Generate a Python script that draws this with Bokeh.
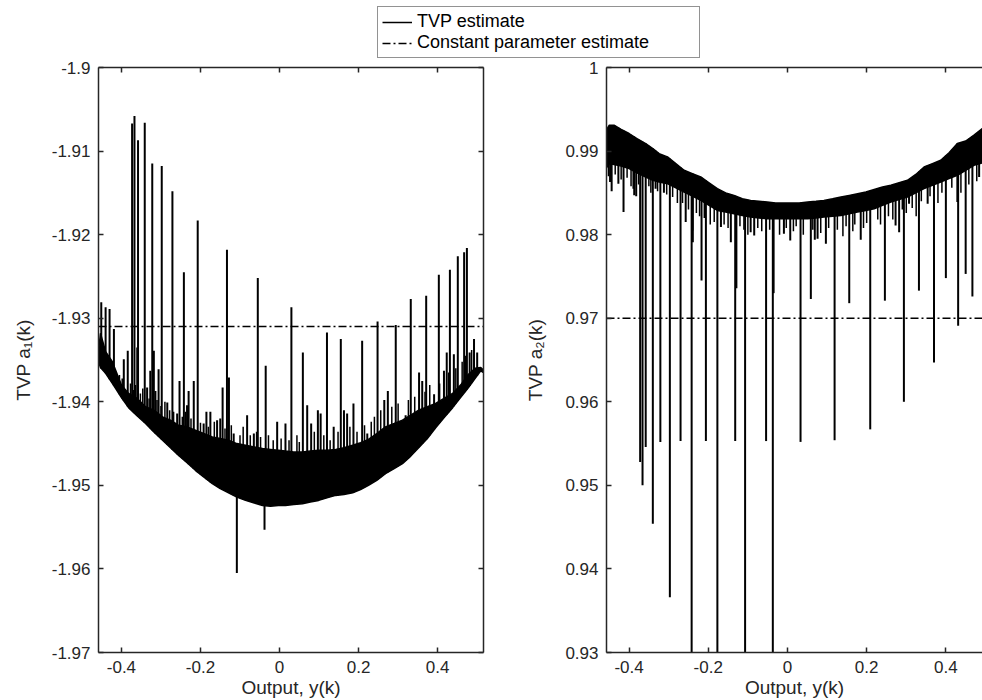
import numpy as np
from bokeh.plotting import figure
from bokeh.models import Range1d, LinearAxis, FixedTicker, Legend, LegendItem
from bokeh.layouts import column, row
from bokeh.embed import file_html
from bokeh.resources import INLINE

TXT = "#262626"
FONT = "Liberation Sans"
DASHDOT = "8 3 2 3"

# ---------------- tick definitions ----------------
x_ticks = [-0.4, -0.2, 0.0, 0.2, 0.4]
x_ticklabels = ["-0.4", "-0.2", "0", "0.2", "0.4"]
a1_ticks = [-1.97, -1.96, -1.95, -1.94, -1.93, -1.92, -1.91, -1.9]
a1_ticklabels = ["-1.97", "-1.96", "-1.95", "-1.94", "-1.93", "-1.92", "-1.91", "-1.9"]
a2_ticks = [0.93, 0.94, 0.95, 0.96, 0.97, 0.98, 0.99, 1.0]
a2_ticklabels = ["0.93", "0.94", "0.95", "0.96", "0.97", "0.98", "0.99", "1"]

# ---------------- left panel: TVP a1(k) ----------------
a1_x = [-0.458, -0.453, -0.440, -0.423, -0.400, -0.382, -0.360, -0.339, -0.318, -0.296,
        -0.276, -0.256, -0.234, -0.213, -0.192, -0.170, -0.150, -0.129, -0.108, -0.086,
        -0.064, -0.043, -0.023, -0.003, 0.015, 0.036, 0.058, 0.078, 0.099, 0.120,
        0.142, 0.163, 0.185, 0.205, 0.225, 0.246, 0.268, 0.290, 0.311, 0.332,
        0.352, 0.374, 0.395, 0.416, 0.438, 0.458, 0.478, 0.495, 0.509, 0.516]
a1_low = [-1.9352, -1.9359, -1.9366, -1.9378, -1.9395, -1.9407, -1.9417, -1.9426, -1.9436, -1.9446,
          -1.9455, -1.9464, -1.9473, -1.9482, -1.9490, -1.9498, -1.9504, -1.9509, -1.9514, -1.9518,
          -1.9521, -1.9524, -1.9525, -1.9524, -1.9524, -1.9523, -1.9522, -1.9520, -1.9518, -1.9515,
          -1.9512, -1.9511, -1.9509, -1.9505, -1.9500, -1.9494, -1.9486, -1.9480, -1.9474, -1.9465,
          -1.9455, -1.9444, -1.9431, -1.9419, -1.9407, -1.9395, -1.9383, -1.9372, -1.9363, -1.9365]
a1_high = [-1.9340, -1.9318, -1.9340, -1.9352, -1.9380, -1.9390, -1.9396, -1.9406, -1.9410, -1.9418,
           -1.9422, -1.9428, -1.9430, -1.9434, -1.9438, -1.9442, -1.9444, -1.9446, -1.9450, -1.9452,
           -1.9454, -1.9456, -1.9457, -1.9458, -1.9459, -1.9460, -1.9460, -1.9459, -1.9458, -1.9458,
           -1.9457, -1.9455, -1.9452, -1.9449, -1.9445, -1.9438, -1.9430, -1.9426, -1.9422, -1.9416,
           -1.9410, -1.9406, -1.9402, -1.9396, -1.9390, -1.9380, -1.9367, -1.9360, -1.9359, -1.9362]
# tall upward spikes of the TVP a1 estimate (position, tip value)
a1_spike_x = [-0.373, -0.367, -0.358, -0.341, -0.322, -0.298, -0.271, -0.242, -0.207, -0.133,
              -0.055, 0.030, 0.120, 0.155, 0.209, 0.248, 0.294, 0.332, 0.371, 0.403,
              0.431, 0.451, 0.467, 0.474,
              -0.451, -0.440, -0.430, -0.419, -0.394, -0.384, -0.365, -0.360, -0.335, -0.327,
              -0.318, -0.314, -0.306, -0.284, -0.259, -0.253, -0.234, -0.230, -0.217, -0.192,
              -0.185, -0.175, -0.158, -0.150, -0.144, -0.128, -0.116, -0.082, -0.065, -0.035,
              -0.006, 0.015, 0.059, 0.070, 0.080, 0.097, 0.104, 0.137, 0.163, 0.171,
              0.187, 0.222, 0.265, 0.274, 0.319, 0.353, 0.361, 0.391, 0.416, 0.423,
              0.441, 0.481, 0.492, 0.500]
a1_spike_tip = [-1.9067, -1.9058, -1.9087, -1.9066, -1.9115, -1.9118, -1.9148, -1.9245, -1.9183, -1.9218,
                -1.9252, -1.9287, -1.9317, -1.9325, -1.9327, -1.9304, -1.9308, -1.9277, -1.9273, -1.9248,
                -1.9242, -1.9226, -1.9221, -1.9216,
                -1.9281, -1.9287, -1.9289, -1.9313, -1.9349, -1.9339, -1.9380, -1.9335, -1.9383, -1.9363,
                -1.9339, -1.9387, -1.9361, -1.9401, -1.9414, -1.9375, -1.9404, -1.9387, -1.9375, -1.9426,
                -1.9412, -1.9412, -1.9422, -1.9420, -1.9383, -1.9371, -1.9438, -1.9416, -1.9438, -1.9357,
                -1.9424, -1.9426, -1.9341, -1.9404, -1.9426, -1.9410, -1.9414, -1.9430, -1.9410, -1.9414,
                -1.9402, -1.9438, -1.9398, -1.9387, -1.9416, -1.9365, -1.9375, -1.9391, -1.9363, -1.9341,
                -1.9343, -1.9341, -1.9325, -1.9341]
# short fringe spikes along the top of the dense band
a1_fringe_x = [-0.405, -0.398, -0.377, -0.370, -0.352, -0.346, -0.330, -0.310, -0.300, -0.290,
               -0.278, -0.268, -0.246, -0.238, -0.224, -0.200, -0.180, -0.165, -0.138, -0.122,
               -0.100, -0.092, -0.074, -0.058, -0.048, -0.028, -0.016, 0.004, 0.024, 0.044,
               0.050, 0.088, 0.112, 0.128, 0.148, 0.178, 0.196, 0.215, 0.232, 0.240,
               0.256, 0.284, 0.300, 0.326, 0.342, 0.368, 0.380, 0.405, 0.428, 0.446,
               0.462, 0.470, 0.486]
a1_fringe_tip = [-1.9368, -1.9372, -1.9378, -1.9386, -1.9390, -1.9384, -1.9396, -1.9398, -1.9405, -1.9400,
                 -1.9410, -1.9412, -1.9418, -1.9412, -1.9420, -1.9425, -1.9430, -1.9424, -1.9432, -1.9428,
                 -1.9440, -1.9430, -1.9440, -1.9436, -1.9442, -1.9440, -1.9446, -1.9444, -1.9446, -1.9440,
                 -1.9448, -1.9436, -1.9440, -1.9446, -1.9436, -1.9430, -1.9436, -1.9428, -1.9424, -1.9418,
                 -1.9410, -1.9406, -1.9402, -1.9398, -1.9394, -1.9388, -1.9380, -1.9378, -1.9365, -1.9360,
                 -1.9352, -1.9345, -1.9338]
# downward spikes
a1_dip_x = [-0.108, -0.038]
a1_dip_tip = [-1.9605, -1.9553]
a1_const = -1.931

# ---------------- right panel: TVP a2(k) ----------------
a2_x = [-0.457, -0.450, -0.438, -0.420, -0.400, -0.380, -0.358, -0.340, -0.324, -0.303,
        -0.282, -0.261, -0.240, -0.219, -0.198, -0.177, -0.156, -0.135, -0.114, -0.093,
        -0.072, -0.051, -0.030, -0.009, 0.008, 0.030, 0.051, 0.072, 0.092, 0.114,
        0.135, 0.156, 0.177, 0.198, 0.219, 0.240, 0.261, 0.282, 0.303, 0.324,
        0.345, 0.366, 0.387, 0.408, 0.429, 0.450, 0.471, 0.492, 0.516]
a2_high = [0.9925, 0.9931, 0.9931, 0.9926, 0.9921, 0.9915, 0.9909, 0.9903, 0.9897, 0.9893,
           0.9885, 0.9877, 0.9873, 0.9869, 0.9862, 0.9855, 0.9850, 0.9847, 0.9843, 0.9841,
           0.9840, 0.9839, 0.9838, 0.9838, 0.9838, 0.9838, 0.9839, 0.9840, 0.9841, 0.9843,
           0.9845, 0.9847, 0.9849, 0.9851, 0.9854, 0.9857, 0.9859, 0.9862, 0.9865, 0.9872,
           0.9881, 0.9885, 0.9889, 0.9898, 0.9909, 0.9912, 0.9919, 0.9927, 0.9930]
a2_low = [0.9880, 0.9885, 0.9884, 0.9882, 0.9879, 0.9874, 0.9869, 0.9865, 0.9863, 0.9861,
          0.9856, 0.9851, 0.9846, 0.9841, 0.9835, 0.9829, 0.9827, 0.9825, 0.9823, 0.9821,
          0.9820, 0.9819, 0.9819, 0.9819, 0.9819, 0.9819, 0.9819, 0.9820, 0.9821, 0.9822,
          0.9823, 0.9825, 0.9827, 0.9829, 0.9831, 0.9835, 0.9839, 0.9842, 0.9845, 0.9850,
          0.9855, 0.9859, 0.9863, 0.9867, 0.9871, 0.9877, 0.9883, 0.9886, 0.9888]
# downward spikes of the TVP a2 estimate (position, tip value)
a2_dip_x = [-0.448, -0.444, -0.427, -0.414, -0.389, -0.387, -0.382, -0.372, -0.366, -0.358,
            -0.340, -0.333, -0.321, -0.312, -0.297, -0.270, -0.257, -0.242, -0.240, -0.239,
            -0.217, -0.206, -0.177, -0.168, -0.143, -0.132, -0.129, -0.107, -0.093, -0.084,
            -0.054, -0.037, -0.035, -0.009, 0.007, 0.033, 0.059, 0.069, 0.076, 0.097,
            0.119, 0.156, 0.185, 0.209, 0.246, 0.273, 0.282, 0.294, 0.307, 0.332,
            0.354, 0.370, 0.395, 0.400, 0.429, 0.431, 0.450, 0.467, 0.484]
a2_dip_tip = [0.9863, 0.9852, 0.9861, 0.9827, 0.9855, 0.9847, 0.9846, 0.9528, 0.9500, 0.9546,
              0.9454, 0.9855, 0.9552, 0.9850, 0.9366, 0.9553, 0.9815, 0.9200, 0.9805, 0.9791,
              0.9745, 0.9553, 0.9200, 0.9809, 0.9791, 0.9553, 0.9736, 0.9200, 0.9803, 0.9799,
              0.9553, 0.9200, 0.9730, 0.9801, 0.9793, 0.9552, 0.9723, 0.9794, 0.9795, 0.9789,
              0.9554, 0.9718, 0.9794, 0.9567, 0.9721, 0.9811, 0.9803, 0.9600, 0.9837, 0.9733,
              0.9837, 0.9647, 0.9865, 0.9748, 0.9839, 0.9691, 0.9753, 0.9726, 0.9869]
# short fringe dips along the bottom of the dense band
a2_fringe_x = [-0.452, -0.435, -0.420, -0.405, -0.395, -0.376, -0.350, -0.345, -0.328, -0.305,
               -0.290, -0.278, -0.265, -0.250, -0.230, -0.222, -0.210, -0.195, -0.185, -0.160,
               -0.150, -0.120, -0.110, -0.100, -0.075, -0.065, -0.045, -0.020, -0.003, 0.015,
               0.022, 0.040, 0.064, 0.084, 0.104, 0.126, 0.140, 0.148, 0.165, 0.170,
               0.192, 0.200, 0.228, 0.235, 0.255, 0.266, 0.290, 0.300, 0.315, 0.325,
               0.338, 0.360, 0.380, 0.390, 0.415, 0.438, 0.458, 0.478]
a2_fringe_tip = [0.9870, 0.9872, 0.9866, 0.9868, 0.9858, 0.9860, 0.9858, 0.9850, 0.9852, 0.9848,
                 0.9845, 0.9838, 0.9838, 0.9830, 0.9826, 0.9822, 0.9820, 0.9812, 0.9815, 0.9812,
                 0.9808, 0.9810, 0.9806, 0.9800, 0.9808, 0.9804, 0.9806, 0.9800, 0.9808, 0.9804,
                 0.9810, 0.9800, 0.9806, 0.9802, 0.9808, 0.9806, 0.9798, 0.9810, 0.9804, 0.9812,
                 0.9808, 0.9814, 0.9818, 0.9812, 0.9822, 0.9818, 0.9830, 0.9826, 0.9832, 0.9822,
                 0.9840, 0.9846, 0.9838, 0.9850, 0.9856, 0.9850, 0.9860, 0.9864]
a2_const = 0.970

# ---------------- layout constants ----------------
LEG_H = 58
PLOT_H = 700 - LEG_H
P1_W = 500
P2_W = 982 - P1_W


def setup_axes(p, yticks, ylabels, ylabel, right_axis, label_standoff):
    p.xaxis.visible = False
    p.yaxis.visible = False
    p.grid.visible = False
    p.outline_line_color = None
    p.background_fill_color = "white"
    p.border_fill_color = "white"
    xo = {t: l for t, l in zip(x_ticks, x_ticklabels)}
    yo = {t: l for t, l in zip(yticks, ylabels)}
    specs = [("below", True, True), ("left", False, True), ("above", True, False)]
    if right_axis:
        specs.append(("right", False, False))
    for side, is_x, show in specs:
        ax = LinearAxis()
        ax.ticker = FixedTicker(ticks=x_ticks if is_x else yticks)
        ax.axis_line_color = TXT
        ax.axis_line_width = 1.5
        ax.major_tick_line_color = TXT
        ax.major_tick_line_width = 1.5
        ax.major_tick_in = 5
        ax.major_tick_out = 0
        ax.minor_tick_line_color = None
        ax.major_label_text_font = FONT
        if show:
            ax.major_label_overrides = xo if is_x else yo
            ax.major_label_text_color = TXT
            ax.major_label_text_font_size = "17px"
            ax.axis_label_text_font = FONT
            ax.axis_label_text_font_style = "normal"
            ax.axis_label_text_color = TXT
            ax.axis_label_text_font_size = "19px"
            if is_x:
                ax.axis_label = "Output, y(k)"
                ax.major_label_standoff = 8
                ax.axis_label_standoff = 1
            else:
                ax.axis_label = ylabel
                ax.major_label_standoff = 8
                ax.axis_label_standoff = label_standoff
        else:
            ax.major_label_text_color = None
            ax.major_label_text_font_size = "0px"
            ax.major_label_standoff = 0
        p.add_layout(ax, side)


def draw_band(p, bx, lo, hi):
    p.varea(x=bx, y1=lo, y2=hi, fill_color="black")
    p.line(bx, lo, line_color="black", line_width=1.5)
    p.line(bx, hi, line_color="black", line_width=1.5)


# ---------------- left figure ----------------
p1 = figure(width=P1_W, height=PLOT_H, x_range=Range1d(-0.458, 0.516),
            y_range=Range1d(-1.97, -1.90), output_backend="svg", toolbar_location=None,
            min_border_left=98, min_border_right=P1_W - 98 - 385, min_border_top=9,
            min_border_bottom=48)
setup_axes(p1, a1_ticks, a1_ticklabels, "TVP a\u2081(k)", True, 15)
draw_band(p1, a1_x, a1_low, a1_high)
p1.segment(x0=a1_fringe_x, y0=np.interp(a1_fringe_x, a1_x, a1_low), x1=a1_fringe_x,
           y1=a1_fringe_tip, line_color="black", line_width=1.5)
p1.segment(x0=a1_spike_x, y0=np.interp(a1_spike_x, a1_x, a1_low), x1=a1_spike_x,
           y1=a1_spike_tip, line_color="black", line_width=2)
p1.segment(x0=a1_dip_x, y0=np.interp(a1_dip_x, a1_x, a1_high), x1=a1_dip_x,
           y1=a1_dip_tip, line_color="black", line_width=2)
p1.line([-0.458, 0.516], [a1_const, a1_const], line_color="black", line_width=1.5,
        line_dash=DASHDOT)

# ---------------- right figure ----------------
p2 = figure(width=P2_W, height=PLOT_H, x_range=Range1d(-0.457, 0.4925),
            y_range=Range1d(0.93, 1.0), output_backend="svg", toolbar_location=None,
            min_border_left=106, min_border_right=0, min_border_top=9,
            min_border_bottom=48)
setup_axes(p2, a2_ticks, a2_ticklabels, "TVP a\u2082(k)", False, 16)
draw_band(p2, a2_x, a2_low, a2_high)
p2.segment(x0=a2_fringe_x, y0=np.interp(a2_fringe_x, a2_x, a2_high), x1=a2_fringe_x,
           y1=a2_fringe_tip, line_color="black", line_width=1.5)
p2.segment(x0=a2_dip_x, y0=np.interp(a2_dip_x, a2_x, a2_high), x1=a2_dip_x,
           y1=a2_dip_tip, line_color="black", line_width=2)
p2.line([-0.457, 0.516], [a2_const, a2_const], line_color="black", line_width=1.5,
        line_dash=DASHDOT)

# ---------------- legend strip ----------------
pl = figure(width=982, height=LEG_H, x_range=Range1d(0, 1), y_range=Range1d(0, 1),
            output_backend="svg", toolbar_location=None, x_axis_type=None, y_axis_type=None,
            min_border=0)
pl.grid.visible = False
pl.outline_line_color = None
r_tvp = pl.line([5, 6], [5, 6], line_color="black", line_width=1.5)
r_const = pl.line([5, 6], [5, 6], line_color="black", line_width=1.5, line_dash=DASHDOT)
legend = Legend(items=[LegendItem(label="TVP estimate", renderers=[r_tvp]),
                       LegendItem(label="Constant parameter estimate", renderers=[r_const])],
                location=(377, 0), orientation="vertical")
legend.label_text_font = FONT
legend.label_text_font_size = "18px"
legend.label_text_color = "black"
legend.label_height = 20
legend.glyph_height = 20
legend.glyph_width = 30
legend.label_standoff = 5
legend.label_width = 278
legend.padding = 4
legend.spacing = 0
legend.margin = 0
legend.border_line_color = TXT
legend.border_line_width = 1.5
legend.background_fill_color = "white"
legend.background_fill_alpha = 1.0
pl.add_layout(legend, "center")

layout = column(pl, row(p1, p2))
open("out.html", "w").write(file_html(layout, INLINE))
